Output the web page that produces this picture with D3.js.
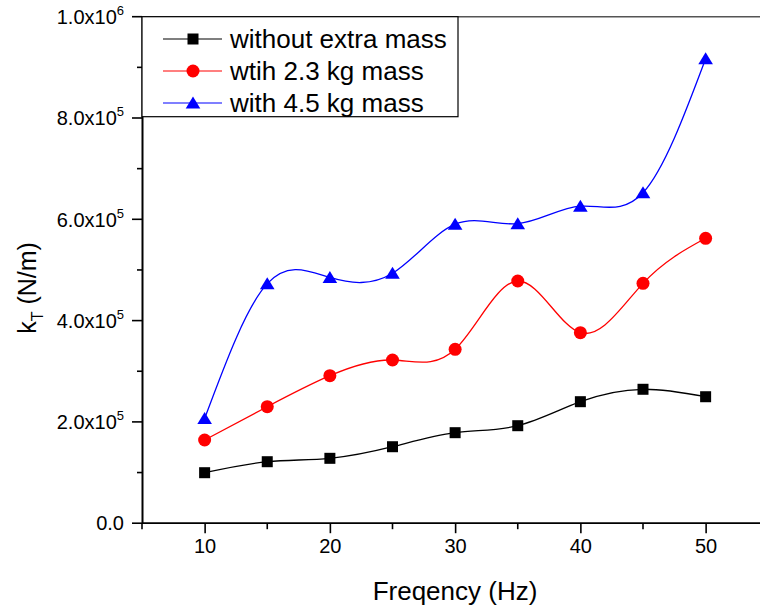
<!DOCTYPE html>
<html>
<head>
<meta charset="utf-8">
<script src="https://cdn.jsdelivr.net/npm/d3@7"></script>
<style>
  html, body { margin: 0; padding: 0; background: #fff; }
  svg { display: block; }
  text { font-family: "Liberation Sans", Arial, sans-serif; fill: #000; }
</style>
</head>
<body>
<svg id="chart" width="760" height="611"></svg>
<script>
// Frequency (Hz) of each measurement
const frequency = [10, 15, 20, 25, 30, 35, 40, 45, 50];

// Total stiffness k_T (N/m) for each load case
const kNoMass  = [99700, 121400, 128100, 151000, 178700, 192500, 239900, 264400, 249700];
const k23kg    = [164300, 230000, 291200, 322200, 343300, 478200, 376100, 473600, 562500];
const k45kg    = [206700, 472900, 485100, 493400, 590300, 591300, 625900, 652300, 916900];

const seriesNames = ["without extra mass", "wtih 2.3 kg mass", "with 4.5 kg mass"];
const seriesValues = [kNoMass, k23kg, k45kg];
const seriesColors = ["#000000", "#ff0000", "#0000ff"];
const seriesShapes = ["square", "circle", "triangle"];

const xMajorTicks = [10, 20, 30, 40, 50];
const xMinorTicks = [5, 15, 25, 35, 45];
const yMajorTicks = [0, 200000, 400000, 600000, 800000, 1000000];
const yMinorTicks = [100000, 300000, 500000, 700000, 900000];
const yTickMantissa = ["0.0", "2.0x10", "4.0x10", "6.0x10", "8.0x10", "1.0x10"];
const yTickExponent = ["", "5", "5", "5", "5", "6"];

const svg = d3.select("#chart");

const x = d3.scaleLinear().domain([5, 55]).range([142, 768.25]);
const y = d3.scaleLinear().domain([0, 1000000]).range([523.2, 16.7]);

// top frame line
svg.append("line")
  .attr("x1", x(5)).attr("x2", 760)
  .attr("y1", y(1000000)).attr("y2", y(1000000))
  .attr("stroke", "#555").attr("stroke-width", 1.5);

// x axis
const xAxis = svg.append("g").attr("transform", `translate(0,${y(0)})`);
xAxis.call(d3.axisBottom(x).tickValues(xMajorTicks).tickSize(10).tickSizeOuter(0).tickPadding(6));
xAxis.select(".domain").attr("stroke", "#000").attr("stroke-width", 1.8).attr("d", `M${x(5)},0H760`);
xAxis.selectAll(".tick line").attr("stroke", "#000").attr("stroke-width", 1.6);
xAxis.selectAll(".tick text").attr("font-size", 20).attr("font-family", "Liberation Sans, Arial, sans-serif").attr("fill", "#000");
xAxis.selectAll(".minor").data(xMinorTicks).enter().append("line")
  .attr("class", "minor")
  .attr("x1", d => x(d)).attr("x2", d => x(d))
  .attr("y1", 0).attr("y2", 6)
  .attr("stroke", "#000").attr("stroke-width", 1.6);

// y axis: domain line from the axis generator, tick marks drawn from the same scale
const yAxis = svg.append("g").attr("transform", `translate(${x(5)},0)`);
yAxis.call(d3.axisLeft(y).tickValues([]).tickSize(0).tickSizeOuter(0));
yAxis.select(".domain").attr("stroke", "#000").attr("stroke-width", 2);
yAxis.selectAll(".major").data(yMajorTicks).enter().append("line")
  .attr("class", "major")
  .attr("x1", 0).attr("x2", -10)
  .attr("y1", d => y(d)).attr("y2", d => y(d))
  .attr("stroke", "#000").attr("stroke-width", 1.6);
yAxis.selectAll(".minor").data(yMinorTicks).enter().append("line")
  .attr("class", "minor")
  .attr("x1", 0).attr("x2", -5)
  .attr("y1", d => y(d)).attr("y2", d => y(d))
  .attr("stroke", "#000").attr("stroke-width", 1.6);

const yLabels = svg.append("g");
yMajorTicks.forEach((v, i) => {
  const t = yLabels.append("text")
    .attr("x", 124).attr("y", y(v)).attr("dy", "0.36em")
    .attr("text-anchor", "end").attr("font-size", 20);
  t.append("tspan").text(yTickMantissa[i]);
  if (yTickExponent[i]) {
    t.append("tspan").attr("font-size", 13).attr("dy", -9).text(yTickExponent[i]);
  }
});

// axis titles
svg.append("text")
  .attr("x", 455).attr("y", 600)
  .attr("text-anchor", "middle").attr("font-size", 26)
  .text("Freqency (Hz)");

const yTitle = svg.append("text")
  .attr("transform", "translate(36,288) rotate(-90)")
  .attr("text-anchor", "middle").attr("font-size", 25);
yTitle.append("tspan").text("k");
yTitle.append("tspan").attr("font-size", 16).attr("dy", 7).text("T");
yTitle.append("tspan").attr("dy", -7).text(" (N/m)");

// markers
function drawMarker(g, shape, cx, cy, color) {
  if (shape === "square") {
    g.append("rect").attr("x", cx - 5.5).attr("y", cy - 5.5)
      .attr("width", 11).attr("height", 11).attr("fill", color);
  } else if (shape === "circle") {
    g.append("circle").attr("cx", cx).attr("cy", cy).attr("r", 6.5).attr("fill", color);
  } else {
    g.append("path")
      .attr("d", `M${cx},${cy - 6.5}L${cx + 7.3},${cy + 5.5}L${cx - 7.3},${cy + 5.5}Z`)
      .attr("fill", color);
  }
}

const line = d3.line()
  .x((d, i) => x(frequency[i]))
  .y(d => y(d))
  .curve(d3.curveNatural);

seriesValues.forEach((vals, s) => {
  const g = svg.append("g");
  g.append("path").datum(vals)
    .attr("d", line)
    .attr("fill", "none")
    .attr("stroke", seriesColors[s])
    .attr("stroke-width", 1.3);
  vals.forEach((v, i) => drawMarker(g, seriesShapes[s], x(frequency[i]), y(v), seriesColors[s]));
});

// legend
const legend = svg.append("g");
legend.append("rect")
  .attr("x", x(5)).attr("y", y(1000000))
  .attr("width", 316).attr("height", 100)
  .attr("fill", "#fff").attr("stroke", "#000").attr("stroke-width", 1.2);
const legendRows = [39, 71, 103];
seriesNames.forEach((name, s) => {
  const ry = legendRows[s];
  legend.append("line")
    .attr("x1", 163).attr("x2", 222).attr("y1", ry).attr("y2", ry)
    .attr("stroke", seriesColors[s]).attr("stroke-width", 1.2);
  drawMarker(legend, seriesShapes[s], 193, ry, seriesColors[s]);
  legend.append("text")
    .attr("x", 230).attr("y", ry).attr("dy", "0.35em")
    .attr("font-size", 26)
    .text(name);
});
</script>
</body>
</html>
